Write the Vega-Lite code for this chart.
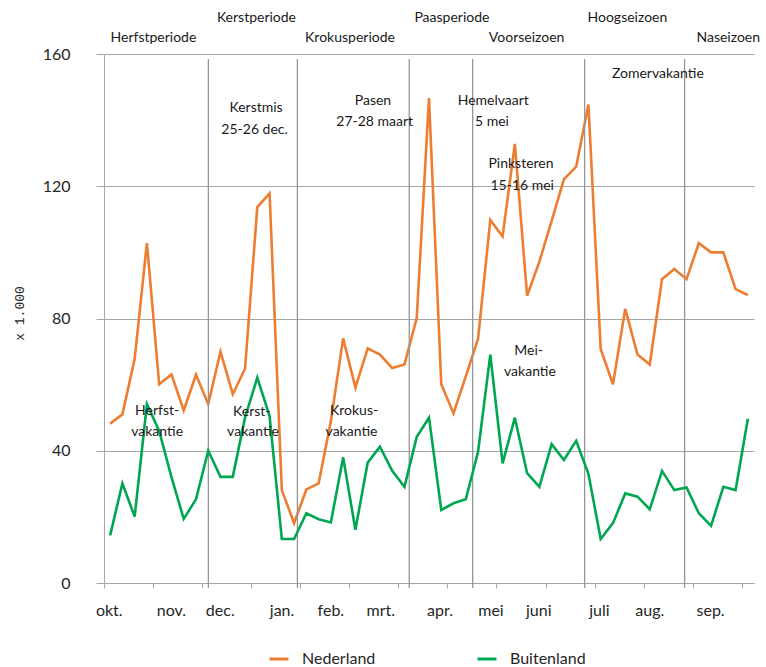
{
  "$schema": "https://vega.github.io/schema/vega-lite/v6.json",
  "width": 650,
  "height": 529,
  "autosize": {"type": "none"},
  "padding": {"left": 104, "top": 54, "right": 12, "bottom": 84},
  "background": "white",
  "config": {"view": {"stroke": null}, "font": "Lato"},
  "datasets": {
    "weeks": [
      {"x": 0, "Nederland": 48.2, "Buitenland": 14.4},
      {"x": 1, "Nederland": 51.0, "Buitenland": 30.1},
      {"x": 2, "Nederland": 67.8, "Buitenland": 20.1},
      {"x": 3, "Nederland": 102.8, "Buitenland": 54.1},
      {"x": 4, "Nederland": 60.1, "Buitenland": 46},
      {"x": 5, "Nederland": 63.1, "Buitenland": 32},
      {"x": 6, "Nederland": 52.2, "Buitenland": 19.4},
      {"x": 7, "Nederland": 63.0, "Buitenland": 25.3},
      {"x": 8, "Nederland": 54.1, "Buitenland": 40.0},
      {"x": 9, "Nederland": 70.0, "Buitenland": 32.1},
      {"x": 10, "Nederland": 57.1, "Buitenland": 32.1},
      {"x": 11, "Nederland": 64.8, "Buitenland": 50},
      {"x": 12, "Nederland": 113.7, "Buitenland": 62.1},
      {"x": 13, "Nederland": 117.8, "Buitenland": 50.5},
      {"x": 14, "Nederland": 28.1, "Buitenland": 13.3},
      {"x": 15, "Nederland": 18.1, "Buitenland": 13.3},
      {"x": 16, "Nederland": 28.3, "Buitenland": 21.1},
      {"x": 17, "Nederland": 30.1, "Buitenland": 19.3},
      {"x": 18, "Nederland": 49, "Buitenland": 18.3},
      {"x": 19, "Nederland": 74.0, "Buitenland": 38.0},
      {"x": 20, "Nederland": 59.1, "Buitenland": 16.1},
      {"x": 21, "Nederland": 71.0, "Buitenland": 36.4},
      {"x": 22, "Nederland": 69.1, "Buitenland": 41.2},
      {"x": 23, "Nederland": 65.0, "Buitenland": 33.9},
      {"x": 24, "Nederland": 66.1, "Buitenland": 29.1},
      {"x": 25, "Nederland": 80.1, "Buitenland": 44.2},
      {"x": 26, "Nederland": 146.7, "Buitenland": 50.0},
      {"x": 27, "Nederland": 60.1, "Buitenland": 22.1},
      {"x": 28, "Nederland": 51.3, "Buitenland": 24.1},
      {"x": 29, "Nederland": 62.5, "Buitenland": 25.3},
      {"x": 30, "Nederland": 73.9, "Buitenland": 39.7},
      {"x": 31, "Nederland": 109.8, "Buitenland": 69.1},
      {"x": 32, "Nederland": 104.8, "Buitenland": 36.2},
      {"x": 33, "Nederland": 132.8, "Buitenland": 50.0},
      {"x": 34, "Nederland": 86.9, "Buitenland": 33.2},
      {"x": 35, "Nederland": 97.2, "Buitenland": 29.1},
      {"x": 36, "Nederland": 109.5, "Buitenland": 42.0},
      {"x": 37, "Nederland": 122.1, "Buitenland": 37.2},
      {"x": 38, "Nederland": 125.9, "Buitenland": 43.0},
      {"x": 39, "Nederland": 144.7, "Buitenland": 33.0},
      {"x": 40, "Nederland": 70.8, "Buitenland": 13.3},
      {"x": 41, "Nederland": 60.1, "Buitenland": 18.1},
      {"x": 42, "Nederland": 82.9, "Buitenland": 27.1},
      {"x": 43, "Nederland": 69.1, "Buitenland": 26.1},
      {"x": 44, "Nederland": 66.1, "Buitenland": 22.3},
      {"x": 45, "Nederland": 91.9, "Buitenland": 33.9},
      {"x": 46, "Nederland": 95.0, "Buitenland": 28.1},
      {"x": 47, "Nederland": 91.9, "Buitenland": 28.9},
      {"x": 48, "Nederland": 102.8, "Buitenland": 21.1},
      {"x": 49, "Nederland": 100.0, "Buitenland": 17.3},
      {"x": 50, "Nederland": 100.0, "Buitenland": 29.1},
      {"x": 51, "Nederland": 88.9, "Buitenland": 28.1},
      {"x": 52, "Nederland": 87.1, "Buitenland": 49.7}
    ],
    "seps": [
      {"x": 8.01}, {"x": 15.27}, {"x": 24.39}, {"x": 29.56}, {"x": 38.69}, {"x": 46.84}
    ],
    "notes": [
      {"x": 3.53, "y": 164.7, "t": "Herfstperiode"},
      {"x": 11.93, "y": 170.9, "t": "Kerstperiode"},
      {"x": 19.56, "y": 164.7, "t": "Krokusperiode"},
      {"x": 27.87, "y": 170.9, "t": "Paasperiode"},
      {"x": 33.96, "y": 164.7, "t": "Voorseizoen"},
      {"x": 42.18, "y": 170.9, "t": "Hoogseizoen"},
      {"x": 50.4, "y": 164.7, "t": "Naseizoen"},
      {"x": 11.9, "y": 143.7, "t": "Kerstmis"},
      {"x": 11.78, "y": 137.1, "t": "25-26 dec."},
      {"x": 21.43, "y": 145.9, "t": "Pasen"},
      {"x": 21.57, "y": 139.4, "t": "27-28 maart"},
      {"x": 31.24, "y": 145.9, "t": "Hemelvaart"},
      {"x": 31.13, "y": 139.4, "t": "5 mei"},
      {"x": 33.5, "y": 126.7, "t": "Pinksteren"},
      {"x": 33.6, "y": 120.2, "t": "15-16 mei"},
      {"x": 44.66, "y": 154.1, "t": "Zomervakantie"},
      {"x": 3.83, "y": 51.9, "t": "Herfst-"},
      {"x": 3.83, "y": 45.8, "t": "vakantie"},
      {"x": 11.55, "y": 51.8, "t": "Kerst-"},
      {"x": 11.65, "y": 45.8, "t": "vakantie"},
      {"x": 19.89, "y": 51.9, "t": "Krokus-"},
      {"x": 19.68, "y": 45.8, "t": "vakantie"},
      {"x": 34.13, "y": 70.3, "t": "Mei-"},
      {"x": 34.23, "y": 63.9, "t": "vakantie"}
    ],
    "months": [
      {"x": -0.07, "t": "okt."},
      {"x": 5.0, "t": "nov."},
      {"x": 8.98, "t": "dec."},
      {"x": 14.02, "t": "jan."},
      {"x": 18.0, "t": "feb."},
      {"x": 22.07, "t": "mrt."},
      {"x": 26.9, "t": "apr."},
      {"x": 31.05, "t": "mei"},
      {"x": 34.95, "t": "juni"},
      {"x": 39.9, "t": "juli"},
      {"x": 44.0, "t": "aug."},
      {"x": 48.96, "t": "sep."}
    ]
  },
  "layer": [
    {
      "data": {"name": "weeks"},
      "transform": [
        {"fold": ["Nederland", "Buitenland"], "as": ["serie", "y"]},
        {"filter": "datum.serie === 'Nederland'"}
      ],
      "mark": {"type": "line", "strokeWidth": 2.6, "strokeJoin": "miter"},
      "encoding": {
        "x": {
          "field": "x",
          "type": "quantitative",
          "title": null,
          "scale": {"domain": [-0.5, 52.5], "nice": false, "zero": false},
          "axis": {
            "values": [-0.5, 0.5, 1.5, 2.5, 3.5, 4.5, 5.5, 6.5, 7.5, 8.5, 9.5, 10.5, 11.5, 12.5, 13.5, 14.5, 15.5, 16.5, 17.5, 18.5, 19.5, 20.5, 21.5, 22.5, 23.5, 24.5, 25.5, 26.5, 27.5, 28.5, 29.5, 30.5, 31.5, 32.5, 33.5, 34.5, 35.5, 36.5, 37.5, 38.5, 39.5, 40.5, 41.5, 42.5, 43.5, 44.5, 45.5, 46.5, 47.5, 48.5, 49.5, 50.5, 51.5, 52.5],
            "labels": false,
            "grid": false,
            "ticks": true,
            "tickSize": 5,
            "tickColor": "#a6a6a6",
            "domainColor": "#a6a6a6",
            "title": null
          }
        },
        "y": {
          "field": "y",
          "type": "quantitative",
          "title": "x 1.000",
          "scale": {"domain": [0, 160], "nice": false},
          "axis": {
            "values": [0, 40, 80, 120, 160],
            "grid": true,
            "gridColor": "#a6a6a6",
            "gridWidth": 1,
            "tickSize": 8,
            "tickColor": "#a6a6a6",
            "domainColor": "#a6a6a6",
            "labelFont": "Lato",
            "labelFontSize": 16,
            "labelColor": "#262626",
            "labelPadding": 26,
            "title": "x 1.000",
            "titleFont": "Liberation Mono",
            "titleFontSize": 13,
            "titleFontWeight": "normal",
            "titleColor": "#262626",
            "titleAngle": -90,
            "titleX": -85,
            "titleY": 259,
            "titleAlign": "center",
            "titleBaseline": "middle"
          }
        },
        "color": {
          "field": "serie",
          "type": "nominal",
          "scale": {"domain": ["Nederland", "Buitenland"], "range": ["#ED7D31", "#00A651"]},
          "legend": {
            "orient": "none",
            "legendX": 164,
            "legendY": 594,
            "direction": "horizontal",
            "title": null,
            "symbolType": "stroke",
            "symbolSize": 360,
            "symbolStrokeWidth": 3,
            "labelFont": "Lato",
            "labelFontSize": 16,
            "labelColor": "#262626",
            "labelOffset": 12,
            "columnPadding": 95
          }
        }
      }
    },
    {
      "data": {"name": "seps"},
      "mark": {"type": "rule", "color": "#969696", "strokeWidth": 1.3},
      "encoding": {
        "x": {"field": "x", "type": "quantitative", "title": null},
        "y": {"datum": -1.5},
        "y2": {"datum": 158.5}
      }
    },
    {
      "data": {"name": "weeks"},
      "transform": [
        {"fold": ["Nederland", "Buitenland"], "as": ["serie", "y"]},
        {"filter": "datum.serie === 'Buitenland'"}
      ],
      "mark": {"type": "line", "strokeWidth": 2.6, "strokeJoin": "miter"},
      "encoding": {
        "x": {"field": "x", "type": "quantitative", "title": null},
        "y": {"field": "y", "type": "quantitative", "title": "x 1.000"},
        "color": {"field": "serie", "type": "nominal"}
      }
    },
    {
      "data": {"name": "notes"},
      "mark": {"type": "text", "font": "Lato", "fontSize": 14, "color": "#1a1a1a", "align": "center", "baseline": "middle"},
      "encoding": {
        "x": {"field": "x", "type": "quantitative", "title": null},
        "y": {"field": "y", "type": "quantitative", "title": "x 1.000"},
        "text": {"field": "t"}
      }
    },
    {
      "data": {"name": "months"},
      "mark": {"type": "text", "font": "Lato", "fontSize": 16, "color": "#262626", "align": "center", "baseline": "middle"},
      "encoding": {
        "x": {"field": "x", "type": "quantitative", "title": null},
        "y": {"datum": -8.35},
        "text": {"field": "t"}
      }
    }
  ]
}
